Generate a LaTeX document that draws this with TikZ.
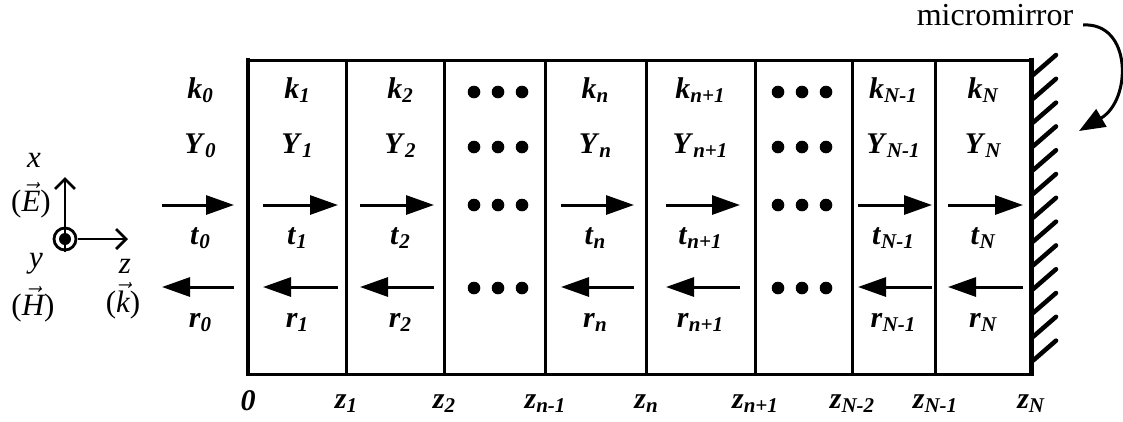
\documentclass[tikz,border=0pt]{standalone}
\usepackage{fix-cm}
\usepackage{fontspec}
\setmainfont{Liberation Serif}
\usetikzlibrary{arrows.meta}
\newcommand\lbl[2]{\textbf{\textit{#1}}\raisebox{-0.3ex}{\fontsize{21}{21}\selectfont\textbf{\textit{#2}}}}
\newcommand\vecit[1]{\ensuremath{\vec{\mbox{\itshape #1}}}}
\tikzset{
  lab/.style={inner sep=0pt,anchor=base,font=\fontsize{30}{34}\selectfont},
  axl/.style={inner sep=0pt,font=\fontsize{31}{34}\selectfont},
  wave/.style={line width=3pt,-{Triangle[length=28pt,width=19pt]}},
  wall/.style={line width=3pt},
  dot/.style={fill=black},
  hatch/.style={line width=4.5pt,line cap=round},
  axarrow/.style={line width=2.8pt,-{Straight Barb[length=10pt,width=20pt]}}
}
\begin{document}
\begin{tikzpicture}[x=1pt,y=-1pt]
\useasboundingbox (0,0) rectangle (1123,421);
% interface coordinates
\foreach \n/\x in {0/248,1/346,2/444,3/545,4/646,5/755,6/852,7/935,8/1031}{
  \coordinate (T\n) at (\x,60);
  \coordinate (B\n) at (\x,374);
}
% box
\draw[wall] (T0) -- (T8);
\draw[wall] (B0) -- (B8);
\draw[line width=4.5pt] ([yshift=2pt]T0) -- ([yshift=-2pt]B0);
\foreach \n in {1,...,7}{\draw[wall] (T\n) -- (B\n);}
\draw[line width=5pt] ([yshift=2pt]T8) -- ([yshift=-2pt]B8);
% mirror hatches
\foreach \i in {0,...,12}{
  \coordinate (h\i a) at (1033,{75+23.8*\i});
  \coordinate (h\i b) at (1056,{55+23.8*\i});
  \draw[hatch] (h\i a) -- (h\i b);
}
% k, Y, t, r labels
\foreach \nm/\x/\s in {0/200/0,1/297/1,2/400/2,n/595/n,np/700/n+1,Nm/893/N-1,N/983/N}{
  \node[lab] (k\nm) at (\x,98) {\lbl{k}{\s}};
  \node[lab] (Y\nm) at (\x,153) {\lbl{Y}{\s}};
  \node[lab] (t\nm) at (\x,244) {\lbl{t}{\s}};
  \node[lab] (r\nm) at (\x,327) {\lbl{r}{\s}};
}
% wave arrows
\foreach \nm/\a/\b in {0/162/234,1/263/338,2/360/434,n/561/634,np/666/740,Nm/858/932,N/948/1023}{
  \coordinate (ta\nm) at (\a,205); \coordinate (tb\nm) at (\b,205);
  \coordinate (ra\nm) at (\b,287); \coordinate (rb\nm) at (\a,287);
  \draw[wave] (ta\nm) -- (tb\nm);
  \draw[wave] (ra\nm) -- (rb\nm);
}
% dots
\foreach \cx in {498,802}{
  \foreach \yy in {92,147,205,288}{
    \foreach \dx in {-24,0,24}{
      \fill[dot] ({\cx+\dx},\yy) circle (6.3pt);
    }
  }
}
% bottom labels
\node[lab] (z0) at (248,410) {\textbf{\textit{0}}};
\foreach \nm/\x/\s in {1/346/1,2/444/2,3/545/n-1,4/646/n,5/755/n+1,6/852/N-2,7/935/N-1,8/1031/N}{
  \node[lab] (z\nm) at (\x,408) {\lbl{z}{\s}};
}
% micromirror
\node[inner sep=0pt,font=\fontsize{32}{36}\selectfont] (mm) at (995,15) {micromirror};
\coordinate (ms) at (1083,25);
\coordinate (me) at (1079,131);
\draw[line width=3pt,-{Triangle[length=26pt,width=20pt]}] (ms) .. controls (1132,22) and (1132,100) .. (me);
% axes
\coordinate (O) at (65,239);
\coordinate (Xe) at (65,177);
\coordinate (Ze) at (128,239);
\draw[line width=2.8pt] (O) circle (11pt);
\fill (O) circle (6pt);
\draw[axarrow] ([yshift=-13pt]O) -- (Xe);
\draw[axarrow] ([xshift=13pt]O) -- (Ze);
\node[axl] (xl) at (34,160) {\textit{x}};
\node[axl] (El) at (31,200) {(\vecit{E})};
\node[axl] (yl) at (36,264) {\textit{y}};
\node[axl] (Hl) at (33,304) {(\vecit{H})};
\node[axl] (zl) at (125,266) {\textit{z}};
\node[axl] (kl) at (123,301) {(\vecit{k})};
\end{tikzpicture}
\end{document}
